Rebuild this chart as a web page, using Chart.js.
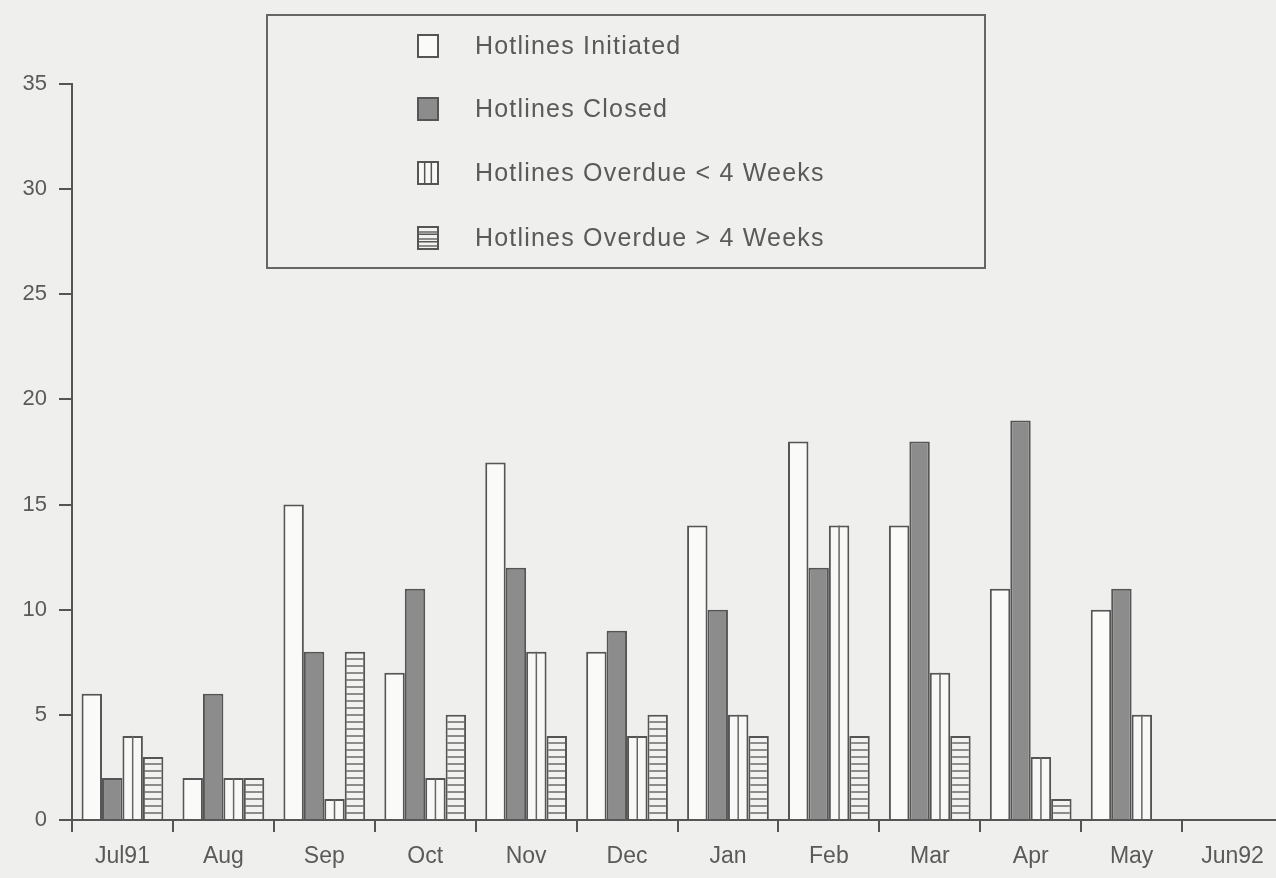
<!DOCTYPE html>
<html>
<head>
<meta charset="utf-8">
<script src="https://cdn.jsdelivr.net/npm/chart.js@4.4.1/dist/chart.umd.min.js"></script>
<style>
  html, body { margin: 0; padding: 0; background: #efefed; overflow: hidden; }
  #wrap { position: relative; width: 1290px; height: 878px; }
</style>
</head>
<body>
<div id="wrap"><canvas id="c"></canvas></div>
<script>
const months = ['Jul91','Aug','Sep','Oct','Nov','Dec','Jan','Feb','Mar','Apr','May','Jun92'];
const initiated = [6, 2, 15, 7, 17, 8, 14, 18, 14, 11, 10, null];
const closed = [2, 6, 8, 11, 12, 9, 10, 12, 18, 19, 11, null];
const overdueUnder4 = [4, 2, 1, 2, 8, 4, 5, 14, 7, 3, 5, null];
const overdueOver4 = [3, 2, 8, 5, 4, 5, 4, 4, 4, 1, null, null];
const seriesNames = ['Hotlines Initiated','Hotlines Closed','Hotlines Overdue < 4 Weeks','Hotlines Overdue > 4 Weeks'];
const yTicks = [0, 5, 10, 15, 20, 25, 30, 35];

const INK = '#5a5a5a';
const FONT = '"Liberation Sans", Arial, sans-serif';

function stripePattern() {
  const p = document.createElement('canvas');
  p.width = 8; p.height = 7;
  const g = p.getContext('2d');
  g.fillStyle = '#f2f2f0';
  g.fillRect(0, 0, 8, 7);
  g.fillStyle = '#8c8c8c';
  g.fillRect(0, 0, 8, 2);
  return g.createPattern(p, 'repeat');
}
const stripes = stripePattern();

const legendPlugin = {
  id: 'boxLegend',
  afterDraw(chart) {
    const ctx = chart.ctx;
    ctx.save();
    ctx.strokeStyle = '#666';
    ctx.lineWidth = 2;
    ctx.strokeRect(267, 15, 718, 253);
    const rows = [46, 109, 173, 238];
    chart.data.datasets.forEach((ds, i) => {
      const y = rows[i];
      const x = 418, w = 20, h = 22;
      ctx.fillStyle = ds.backgroundColor;
      ctx.fillRect(x, y - h / 2, w, h);
      ctx.strokeStyle = '#555';
      ctx.lineWidth = 2;
      ctx.strokeRect(x, y - h / 2, w, h);
      if (i === 2) {
        ctx.lineWidth = 1.5;
        ctx.beginPath();
        ctx.moveTo(x + w / 3, y - h / 2); ctx.lineTo(x + w / 3, y + h / 2);
        ctx.moveTo(x + 2 * w / 3, y - h / 2); ctx.lineTo(x + 2 * w / 3, y + h / 2);
        ctx.stroke();
      }
      if (i === 3) {
        ctx.lineWidth = 1.5;
        ctx.beginPath();
        ctx.moveTo(x, y - h / 6); ctx.lineTo(x + w, y - h / 6);
        ctx.moveTo(x, y + h / 6); ctx.lineTo(x + w, y + h / 6);
        ctx.stroke();
      }
      ctx.fillStyle = INK;
      ctx.font = '25px ' + FONT;
      if ('letterSpacing' in ctx) ctx.letterSpacing = '1.2px';
      ctx.textBaseline = 'middle';
      ctx.textAlign = 'left';
      ctx.fillText(ds.label, 475, y + 1);
      if ('letterSpacing' in ctx) ctx.letterSpacing = '0px';
    });
    ctx.restore();
  }
};

const midLinePlugin = {
  id: 'midLine',
  afterDatasetsDraw(chart) {
    const meta = chart.getDatasetMeta(2);
    const ctx = chart.ctx;
    ctx.save();
    ctx.strokeStyle = '#666';
    ctx.lineWidth = 1.5;
    meta.data.forEach((el, i) => {
      if (overdueUnder4[i] == null) return;
      ctx.beginPath();
      ctx.moveTo(el.x, el.y);
      ctx.lineTo(el.x, el.base);
      ctx.stroke();
    });
    ctx.restore();
  }
};

const common = { borderColor: '#555', borderWidth: 2, borderSkipped: 'bottom', categoryPercentage: 0.81, barPercentage: 1.0 };

new Chart(document.getElementById('c'), {
  type: 'bar',
  data: {
    labels: months,
    datasets: [
      Object.assign({ label: seriesNames[0], data: initiated, backgroundColor: '#fafaf8' }, common),
      Object.assign({ label: seriesNames[1], data: closed, backgroundColor: '#8c8c8c', borderColor: '#484848' }, common),
      Object.assign({ label: seriesNames[2], data: overdueUnder4, backgroundColor: '#f8f8f6' }, common),
      Object.assign({ label: seriesNames[3], data: overdueOver4, backgroundColor: stripes }, common)
    ]
  },
  options: {
    responsive: true,
    maintainAspectRatio: false,
    animation: false,
    layout: { padding: { top: 84, right: 7, bottom: 0, left: 0 } },
    plugins: { legend: { display: false }, tooltip: { enabled: false } },
    scales: {
      x: {
        grid: { drawOnChartArea: false, drawTicks: true, tickLength: 12, color: '#555', lineWidth: 2 },
        border: { display: true, color: '#555', width: 2 },
        ticks: { color: INK, font: { family: FONT, size: 23 }, padding: 11, maxRotation: 0, autoSkip: false },
        afterFit(s) { s.height = 58; }
      },
      y: {
        min: 0, max: 35,
        afterBuildTicks(s) { s.ticks = yTicks.map(v => ({ value: v })); },
        grid: { drawOnChartArea: false, drawTicks: true, tickLength: 13, color: '#555', lineWidth: 2 },
        border: { display: true, color: '#555', width: 2 },
        ticks: { color: INK, font: { family: FONT, size: 22 }, padding: 12 },
        afterFit(s) { s.width = 72; }
      }
    }
  },
  plugins: [legendPlugin, midLinePlugin]
});
</script>
</body>
</html>
